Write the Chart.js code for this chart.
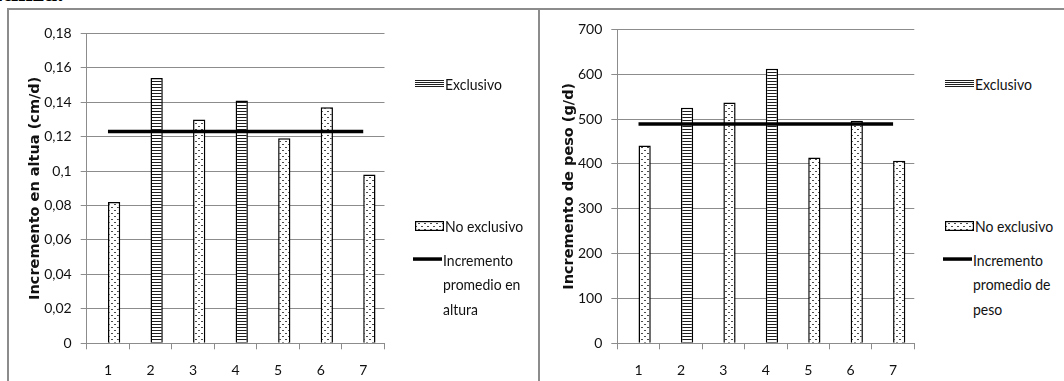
<!DOCTYPE html>
<html lang="es">
<head>
<meta charset="utf-8">
<title>Incremento en altura y peso</title>
<script src="https://cdn.jsdelivr.net/npm/chart.js@4.4.1/dist/chart.umd.min.js"></script>
<style>
  html, body { margin: 0; padding: 0; background: #fff; }
  body {
    width: 1064px; height: 381px; overflow: hidden; position: relative;
    font-family: Lato, "Liberation Sans", sans-serif;
    color: #111;
  }
  #lead {
    position: absolute; left: -12px; top: -22px;
    font: bold 26px "Liberation Serif", "DejaVu Serif", serif; color: #000;
    white-space: nowrap;
  }
  .frame { position: absolute; top: 8px; height: 400px; box-sizing: border-box; border-top: 2px solid #8c8c8c; }
  #frameA { left: 7px; width: 533px; border-left: 2px solid #8c8c8c; border-right: 2px solid #8c8c8c; }
  #frameB { left: 538px; width: 540px; }
  .box { position: absolute; top: 0; width: 400px; height: 381px; }
  #boxA { left: 0; }
  #boxB { left: 530px; }
  .legend-item { position: absolute; width: 120px; height: 80px; font-size: 14px; }
  .legend-item canvas { position: absolute; left: 0; top: 0; }
  .legend-item span {
    position: absolute; left: 30px; top: 0; width: 84px;
    line-height: 21.3px; transform: scaleY(1.15); transform-origin: 0 10.65px;
  }
</style>
</head>
<body>
<div id="lead">utiliza.</div>
<div class="frame" id="frameA"></div>
<div class="frame" id="frameB"></div>
<div class="box" id="boxA"><canvas id="chartAltura" width="400" height="381"></canvas></div>
<div class="box" id="boxB"><canvas id="chartPeso" width="400" height="381"></canvas></div>
<div id="legendAltura"></div>
<div id="legendPeso"></div>

<script>
// Lotes 1..7
const categorias = ['1', '2', '3', '4', '5', '6', '7'];

// Incremento en altura (cm/d)
const alturaExclusivo   = [null, 0.154, null, 0.141, null, null, null];
const alturaNoExclusivo = [0.082, null, 0.130, null, 0.119, 0.137, 0.098];
const alturaPromedio    = [0.123, 0.123, 0.123, 0.123, 0.123, 0.123, 0.123];
const alturaTicks = ['0', '0,02', '0,04', '0,06', '0,08', '0,1', '0,12', '0,14', '0,16', '0,18'];

// Incremento de peso (g/d)
const pesoExclusivo   = [null, 525, null, 612, null, null, null];
const pesoNoExclusivo = [441, null, 537, null, 414, 496, 407];
const pesoPromedio    = [489, 489, 489, 489, 489, 489, 489];
const pesoTicks = ['0', '100', '200', '300', '400', '500', '600', '700'];

// empty column slot that keeps every bar to the right of its category centre
const vacio = [null, null, null, null, null, null, null];

const GRID = '#8c8c8c';
const TEXT = '#111';
const FONT = 'Lato, "Liberation Sans", sans-serif';
const TITLE_FONT = '"DejaVu Sans", "Liberation Sans", sans-serif';

function stripePattern(ctx) {
  const c = document.createElement('canvas');
  c.width = 4; c.height = 3;
  const g = c.getContext('2d');
  g.fillStyle = '#fff'; g.fillRect(0, 0, 4, 3);
  g.fillStyle = '#1e1e1e'; g.fillRect(0, 0, 4, 1);
  return ctx.createPattern(c, 'repeat');
}

function dotPattern(ctx) {
  const c = document.createElement('canvas');
  c.width = 6; c.height = 6;
  const g = c.getContext('2d');
  g.fillStyle = '#fff'; g.fillRect(0, 0, 6, 6);
  g.fillStyle = '#4a4a4a';
  g.fillRect(0, 0, 2, 1);
  g.fillRect(3, 3, 2, 1);
  return ctx.createPattern(c, 'repeat');
}

function buildChart(canvasId, o) {
  const canvas = document.getElementById(canvasId);
  const ctx = canvas.getContext('2d');
  const stripes = stripePattern(ctx);
  const dots = dotPattern(ctx);
  const barBase = {
    type: 'bar', stack: 'b', order: 1,
    borderColor: '#000', borderWidth: 1.5,
    categoryPercentage: 0.577, barPercentage: 1
  };
  return new Chart(canvas, {
    type: 'bar',
    data: {
      labels: categorias,
      datasets: [
        { type: 'line', label: o.lineLabel, data: o.promedio, borderColor: '#000',
          backgroundColor: '#000', borderWidth: 3.5, pointRadius: 0, order: 0, borderCapStyle: 'butt' },
        Object.assign({}, barBase, { label: '', data: vacio, stack: 'a', backgroundColor: '#fff', borderWidth: 0 }),
        Object.assign({}, barBase, { label: 'Exclusivo', data: o.exclusivo, backgroundColor: stripes }),
        Object.assign({}, barBase, { label: 'No exclusivo', data: o.noExclusivo, backgroundColor: dots })
      ]
    },
    options: {
      responsive: false,
      animation: false,
      devicePixelRatio: 1,
      layout: { padding: { left: 0, right: o.padRight, top: o.padTop, bottom: 0 } },
      plugins: { legend: { display: false }, tooltip: { enabled: false } },
      scales: {
        x: {
          grid: { display: true, drawOnChartArea: false, drawTicks: true, tickLength: 6, color: GRID, lineWidth: 1 },
          border: { display: true, color: GRID, width: 1 },
          ticks: { color: TEXT, font: { family: FONT, size: 14 }, padding: 13, maxRotation: 0 },
          afterFit: (s) => { s.height = o.xHeight; }
        },
        y: {
          min: 0, max: o.max,
          grid: { color: GRID, lineWidth: 1, drawTicks: true, tickLength: 6 },
          border: { display: true, color: GRID, width: 1 },
          ticks: {
            stepSize: o.step, color: TEXT, padding: 9,
            font: { family: FONT, size: 14 },
            callback: (v, i) => o.tickLabels[i]
          },
          title: {
            display: true, text: o.title, color: TEXT,
            font: { family: TITLE_FONT, size: 14.5, weight: 'bold' },
            padding: { top: o.titlePad, bottom: 0 }
          },
          afterFit: (s) => { s.width = o.yWidth; }
        }
      }
    }
  });
}

function buildLegend(chart, holderId, spots) {
  const holder = document.getElementById(holderId);
  const items = chart.data.datasets.filter(d => d.label);
  // column series first, average line last
  const ordered = items.filter(d => d.type === 'bar').concat(items.filter(d => d.type === 'line'));
  ordered.forEach((ds, k) => {
    const spot = spots[k];
    const item = document.createElement('div');
    item.className = 'legend-item';
    item.style.left = spot.left + 'px';
    item.style.top = (spot.cy - 10.65) + 'px';
    const sw = document.createElement('canvas');
    sw.width = 29; sw.height = 12;
    sw.style.top = (10.65 - 6) + 'px';
    const g = sw.getContext('2d');
    if (ds.type === 'line') {
      g.fillStyle = '#000';
      g.fillRect(0, 4.3, 29, 3.5);
    } else if (ds.label === 'Exclusivo') {
      g.fillStyle = '#fff'; g.fillRect(0, 2, 29, 8);
      g.fillStyle = '#1e1e1e';
      for (let yy = 2; yy <= 9; yy += 2) g.fillRect(0, yy, 29, 1);
    } else {
      g.fillStyle = '#fff';
      g.fillRect(0, 1, 29, 10);
      g.fillStyle = dotPattern(g); g.fillRect(1, 2, 27, 8);
      g.strokeStyle = '#000'; g.lineWidth = 1.2; g.strokeRect(0.6, 1.6, 27.8, 8.8);
    }
    const label = document.createElement('span');
    label.textContent = ds.label;
    label.style.whiteSpace = ds.type === 'line' ? 'normal' : 'nowrap';
    item.appendChild(sw);
    item.appendChild(label);
    holder.appendChild(item);
  });
}

const chartAltura = buildChart('chartAltura', {
  lineLabel: 'Incremento promedio en altura',
  promedio: alturaPromedio, exclusivo: alturaExclusivo, noExclusivo: alturaNoExclusivo,
  max: 0.18, step: 0.02, tickLabels: alturaTicks,
  title: 'Incremento en altua (cm/d)',
  padTop: 33.3, padRight: 15.5, yWidth: 86.7, xHeight: 37.7, titlePad: 26.5
});

const chartPeso = buildChart('chartPeso', {
  lineLabel: 'Incremento promedio de peso',
  promedio: pesoPromedio, exclusivo: pesoExclusivo, noExclusivo: pesoNoExclusivo,
  max: 700, step: 100, tickLabels: pesoTicks,
  title: 'Incremento de peso (g/d)',
  padTop: 29.3, padRight: 15.7, yWidth: 87.3, xHeight: 37.7, titlePad: 30.5
});

buildLegend(chartAltura, 'legendAltura', [
  { left: 415, cy: 84 },
  { left: 415, cy: 226 },
  { left: 413, cy: 259.5 }
]);
buildLegend(chartPeso, 'legendPeso', [
  { left: 945, cy: 84 },
  { left: 945, cy: 226 },
  { left: 943, cy: 259.5 }
]);
</script>
</body>
</html>
